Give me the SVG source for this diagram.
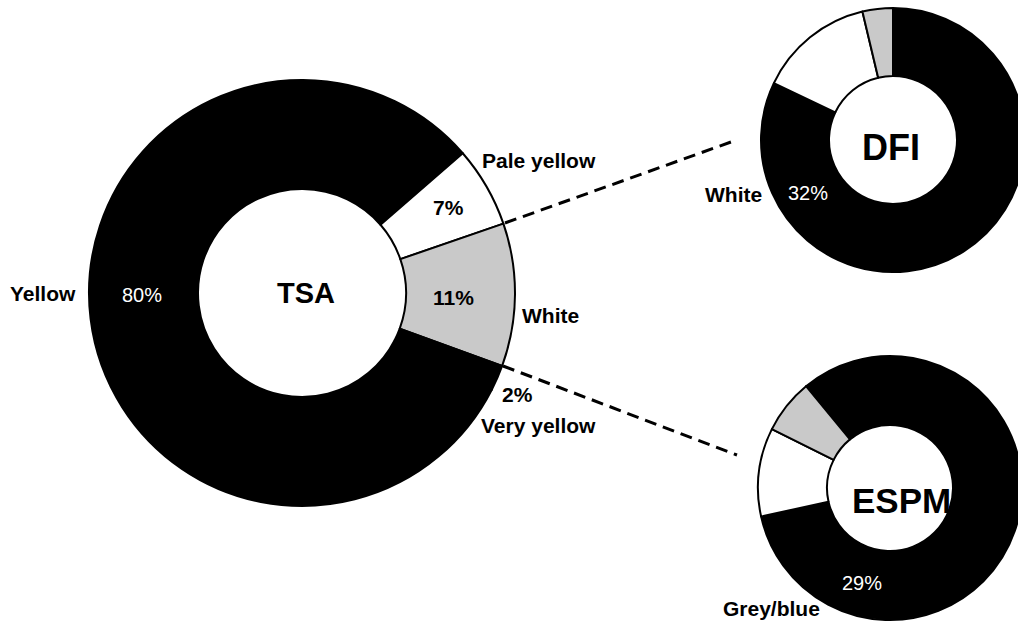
<svg xmlns="http://www.w3.org/2000/svg" width="1018" height="628" viewBox="0 0 1018 628">
<style>
.seg{stroke:#000;stroke-width:2;stroke-linejoin:round}
.blk{fill:#000}
.wht{fill:#fff}
.gry{fill:#c9c9c9}
.lbl{font-family:"Liberation Sans",Arial,sans-serif;font-weight:bold;font-size:21px;fill:#000}
.pct{font-family:"Liberation Sans",Arial,sans-serif;font-size:20px;fill:#fff}
.ctr{font-family:"Liberation Sans",Arial,sans-serif;font-weight:bold;fill:#000}
.dash{fill:none;stroke:#000;stroke-width:3;stroke-dasharray:12 7}
</style>
<rect width="1018" height="628" fill="#fff"/>
<g id="connectors">
<line class="dash" x1="505" y1="223" x2="731" y2="142"/>
<line class="dash" x1="503" y1="366" x2="737" y2="455"/>
</g>
<g id="tsa">
<path class="seg blk" d="M491.78,389.70 A213,213 0 1 1 462.75,153.25 L380.49,224.77 A104,104 0 1 0 394.66,340.22 Z"/>
<path class="seg wht" d="M462.75,153.25 A213,213 0 0 1 503.39,223.65 L400.33,259.14 A104,104 0 0 0 380.49,224.77 Z"/>
<path class="seg gry" d="M503.39,223.65 A213,213 0 0 1 502.16,365.85 L399.73,328.57 A104,104 0 0 0 400.33,259.14 Z"/>
<path class="seg blk" d="M502.16,365.85 A213,213 0 0 1 491.78,389.70 L394.66,340.22 A104,104 0 0 0 399.73,328.57 Z"/>
<text class="ctr" x="306" y="303" font-size="29" text-anchor="middle">TSA</text>
<text class="pct" x="122" y="302">80%</text>
<text class="lbl" x="433" y="215">7%</text>
<text class="lbl" x="433" y="305">11%</text>
<text class="lbl" x="10" y="301">Yellow</text>
<text class="lbl" x="482" y="168">Pale yellow</text>
<text class="lbl" x="522" y="323">White</text>
<text class="lbl" x="502" y="402">2%</text>
<text class="lbl" x="481" y="433">Very yellow</text>
</g>
<g id="dfi">
<path class="seg blk" d="M893,8 A132,132 0 1 1 773.86,83.17 L835.23,112.45 A64,64 0 1 0 893,76 Z"/>
<path class="seg wht" d="M773.86,83.17 A132,132 0 0 1 862.42,11.59 L878.17,77.74 A64,64 0 0 0 835.23,112.45 Z"/>
<path class="seg gry" d="M862.42,11.59 A132,132 0 0 1 893,8 L893,76 A64,64 0 0 0 878.17,77.74 Z"/>
<text class="ctr" x="862" y="160" font-size="36">DFI</text>
<text class="lbl" x="705" y="202">White</text>
<text class="pct" x="788" y="200">32%</text>
</g>
<g id="espm">
<path class="seg blk" d="M806.03,386.15 A132,132 0 1 1 761.13,516.57 L828.49,501.63 A63,63 0 1 0 849.93,439.39 Z"/>
<path class="seg wht" d="M761.13,516.57 A132,132 0 0 1 771.87,429.10 L833.62,459.89 A63,63 0 0 0 828.49,501.63 Z"/>
<path class="seg gry" d="M771.87,429.10 A132,132 0 0 1 806.03,386.15 L849.93,439.39 A63,63 0 0 0 833.62,459.89 Z"/>
<text class="ctr" x="852" y="513" font-size="35">ESPM</text>
<text class="pct" x="842" y="590">29%</text>
<text class="lbl" x="723" y="616">Grey/blue</text>
</g>
</svg>
